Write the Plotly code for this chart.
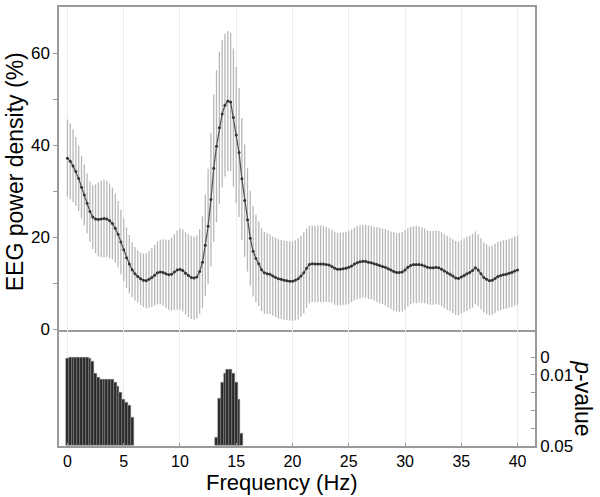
import plotly.graph_objects as go

# Frequency grid (0.25 Hz bins, 0-40 Hz)
freq = [i * 0.25 for i in range(161)]

# Mean EEG power density (%) per bin
mean_power = [
    37.2, 36.5, 35.5, 34.3, 32.8, 30.9, 29.2, 27.4, 25.6, 24.4,   # 0 - 2.25
    24.0, 23.9, 24.0, 24.1, 24.0, 23.6, 23.0, 22.0, 20.7, 19.0,   # 2.5 - 4.75
    17.3, 15.6, 14.2, 13.0, 12.1, 11.5, 11.0, 10.7, 10.6, 10.9,   # 5 - 7.25
    11.3, 11.8, 12.3, 12.5, 12.4, 12.1, 11.9, 12.0, 12.5, 12.9,   # 7.5 - 9.75
    13.1, 12.8, 12.2, 11.7, 11.3, 11.2, 11.4, 12.6, 14.6, 18.3,   # 10 - 12.25
    22.4, 28.2, 35.0, 39.8, 43.8, 46.8, 48.7, 49.6, 49.4, 46.0,   # 12.5 - 14.75
    42.2, 38.4, 32.7, 28.0, 23.8, 19.8, 17.0, 15.4, 14.3, 13.0,   # 15 - 17.25
    12.3, 12.1, 12.0, 11.6, 11.3, 11.0, 10.9, 10.7, 10.6, 10.5,   # 17.5 - 19.75
    10.5, 10.7, 11.0, 11.6, 12.3, 13.3, 14.1, 14.3, 14.2, 14.2,   # 20 - 22.25
    14.2, 14.2, 14.1, 14.0, 13.7, 13.3, 13.1, 13.1, 13.2, 13.3,   # 22.5 - 24.75
    13.5, 13.8, 14.2, 14.5, 14.7, 14.8, 14.8, 14.6, 14.5, 14.3,   # 25 - 27.25
    14.1, 13.9, 13.7, 13.5, 13.2, 12.9, 12.6, 12.4, 12.4, 12.5,   # 27.5 - 29.75
    12.9, 13.5, 13.9, 14.1, 14.1, 14.1, 14.0, 13.8, 13.5, 13.4,   # 30 - 32.25
    13.4, 13.5, 13.4, 13.1, 12.7, 12.3, 12.0, 11.6, 11.2, 11.1,   # 32.5 - 34.75
    11.4, 11.7, 12.1, 12.4, 12.8, 13.4, 12.9, 12.1, 11.3, 10.9,   # 35 - 37.25
    10.6, 10.7, 11.1, 11.5, 11.7, 11.9, 12.0, 12.2, 12.4, 12.7,   # 37.5 - 39.75
    12.9,                                                         # 40
]

# Standard deviation per bin
sd_power = [
    8.4, 8.2, 7.9, 7.5, 7.1, 6.8, 6.6, 6.5, 6.6, 6.9,
    7.5, 8.0, 8.3, 8.4, 8.3, 8.1, 7.8, 7.5, 7.2, 7.0,
    6.8, 6.6, 6.3, 6.0, 5.8, 5.7, 5.7, 5.8, 6.0, 6.2,
    6.4, 6.6, 6.8, 7.0, 7.2, 7.4, 7.6, 7.9, 8.2, 8.6,
    8.8, 8.9, 8.9, 9.0, 9.0, 9.0, 9.0, 9.2, 10.0, 11.0,
    12.5, 14.5, 16.0, 16.5, 16.5, 16.0, 15.5, 15.2, 15.0, 15.0,
    14.8, 14.0, 13.2, 12.2, 11.2, 10.3, 9.8, 9.5, 9.2, 9.0,
    8.9, 8.8, 8.6, 8.6, 8.6, 8.6, 8.6, 8.6, 8.6, 8.6,
    8.6, 8.7, 8.8, 8.8, 8.8, 8.6, 8.4, 8.3, 8.3, 8.3,
    8.3, 8.2, 8.1, 8.0, 7.9, 7.9, 7.9, 7.9, 7.9, 7.9,
    7.9, 7.9, 7.9, 7.9, 7.9, 7.9, 7.9, 8.0, 8.0, 8.0,
    8.1, 8.2, 8.2, 8.3, 8.4, 8.4, 8.5, 8.5, 8.6, 8.6,
    8.6, 8.5, 8.4, 8.3, 8.4, 8.3, 8.2, 8.1, 8.0, 8.0,
    8.0, 8.0, 8.0, 8.0, 8.0, 8.0, 8.0, 8.0, 8.0, 8.0,
    8.0, 8.0, 8.0, 8.0, 8.0, 7.9, 7.8, 7.7, 7.6, 7.6,
    7.5, 7.5, 7.5, 7.5, 7.5, 7.5, 7.5, 7.5, 7.5, 7.5,
    7.5,
]

# Significant bins and their p-values
p_freq = [0.0, 0.25, 0.5, 0.75, 1.0, 1.25, 1.5, 1.75, 2.0, 2.25,
          2.5, 2.75, 3.0, 3.25, 3.5, 3.75, 4.0, 4.25, 4.5, 4.75,
          5.0, 5.25, 5.5, 5.75,
          13.25, 13.5, 13.75, 14.0, 14.25, 14.5, 14.75, 15.0, 15.25, 15.5]
p_val = [0.0005, 0.0004, 0.0004, 0.0004, 0.0004, 0.0004, 0.0004, 0.0004, 0.0005, 0.0025,
         0.009, 0.0116, 0.0127, 0.0127, 0.0127, 0.0127, 0.0127, 0.014, 0.0165, 0.02,
         0.024, 0.0255, 0.027, 0.034,
         0.045, 0.0234, 0.014, 0.009, 0.0071, 0.0071, 0.009, 0.014, 0.0236, 0.043]
p_threshold = 0.05

x_ticks = [0, 5, 10, 15, 20, 25, 30, 35, 40]
y_ticks = [0, 10, 20, 30, 40, 50, 60]
y_ticktext = ["0", "", "20", "", "40", "", "60"]
p_ticks = [0, 0.01, 0.02, 0.03, 0.04, 0.05]
p_ticktext = ["0", "0.01", "", "", "", "0.05"]

FONT = "Liberation Sans, Arial, Helvetica, sans-serif"
AXC = "#9a9a9a"

fig = go.Figure()

# error bars (SD)
fig.add_trace(go.Scatter(
    x=freq, y=mean_power, mode="markers",
    marker=dict(size=1, color="rgba(0,0,0,0)"),
    error_y=dict(type="data", array=sd_power, visible=True,
                 color="#b8b8b8", thickness=1.3, width=0),
    xaxis="x", yaxis="y", showlegend=False, hoverinfo="skip",
))
# mean curve
fig.add_trace(go.Scatter(
    x=freq, y=mean_power, mode="lines+markers",
    line=dict(color="#555555", width=1.3),
    marker=dict(size=3, color="#333333"),
    xaxis="x", yaxis="y", showlegend=False,
))
# p-value bars (drawn from threshold up to p)
fig.add_trace(go.Bar(
    x=p_freq, y=[p - p_threshold for p in p_val], base=[p_threshold] * len(p_val),
    width=0.25,
    marker=dict(color="#2a2a2a", line=dict(color="#8a8a8a", width=0.5)),
    xaxis="x2", yaxis="y2", showlegend=False,
))

split = 117 / 441

fig.update_layout(
    width=600, height=497,
    margin=dict(l=59, r=65, t=5, b=51),
    paper_bgcolor="white", plot_bgcolor="white",
    font=dict(family=FONT, size=17, color="black"),
    bargap=0,
    xaxis=dict(domain=[0, 1], anchor="y", range=[-0.75, 41.55],
               tickvals=x_ticks, showticklabels=False, ticks="",
               showgrid=True, gridcolor="#ececec", gridwidth=1,
               showline=True, mirror=True, linecolor=AXC, linewidth=1.5,
               zeroline=False),
    yaxis=dict(domain=[split, 1], anchor="x", range=[0, 70],
               tickvals=y_ticks, ticktext=y_ticktext,
               ticks="outside", ticklen=4, tickcolor=AXC, tickwidth=1,
               showgrid=False, showline=True, mirror=True,
               linecolor=AXC, linewidth=1.5, zeroline=False,
               tickfont=dict(size=17)),
    xaxis2=dict(domain=[0, 1], anchor="y2", range=[-0.75, 41.55],
                tickvals=x_ticks, ticks="inside", ticklen=3, tickcolor=AXC,
                showgrid=True, gridcolor="#ececec", gridwidth=1,
                showline=True, mirror=False, linecolor=AXC, linewidth=1.5,
                zeroline=False, tickfont=dict(size=16)),
    yaxis2=dict(domain=[0, split], anchor="x2", side="right",
                range=[0.05, -0.0156],
                tickvals=p_ticks, ticktext=p_ticktext,
                ticks="inside", ticklen=4, tickcolor=AXC,
                showgrid=False, showline=True, mirror=True,
                linecolor=AXC, linewidth=1.5, zeroline=False,
                tickfont=dict(size=17)),
    annotations=[
        dict(text="Frequency (Hz)", x=(282 - 59) / 476, y=(446 - 483) / 441,
             xref="paper", yref="paper", xanchor="center", yanchor="middle",
             showarrow=False, font=dict(size=22)),
        dict(text="EEG power density (%)", x=(15 - 59) / 476, y=(446 - 171) / 441,
             xref="paper", yref="paper", xanchor="center", yanchor="middle",
             textangle=-90, showarrow=False, font=dict(size=23)),
        dict(text="<i>p</i>-value", x=(583 - 59) / 476, y=(446 - 398) / 441,
             xref="paper", yref="paper", xanchor="center", yanchor="middle",
             textangle=90, showarrow=False, font=dict(size=23)),
    ],
)

fig.write_html("out.html", config={"displayModeBar": False},
               post_script="document.body.style.margin='0';")
